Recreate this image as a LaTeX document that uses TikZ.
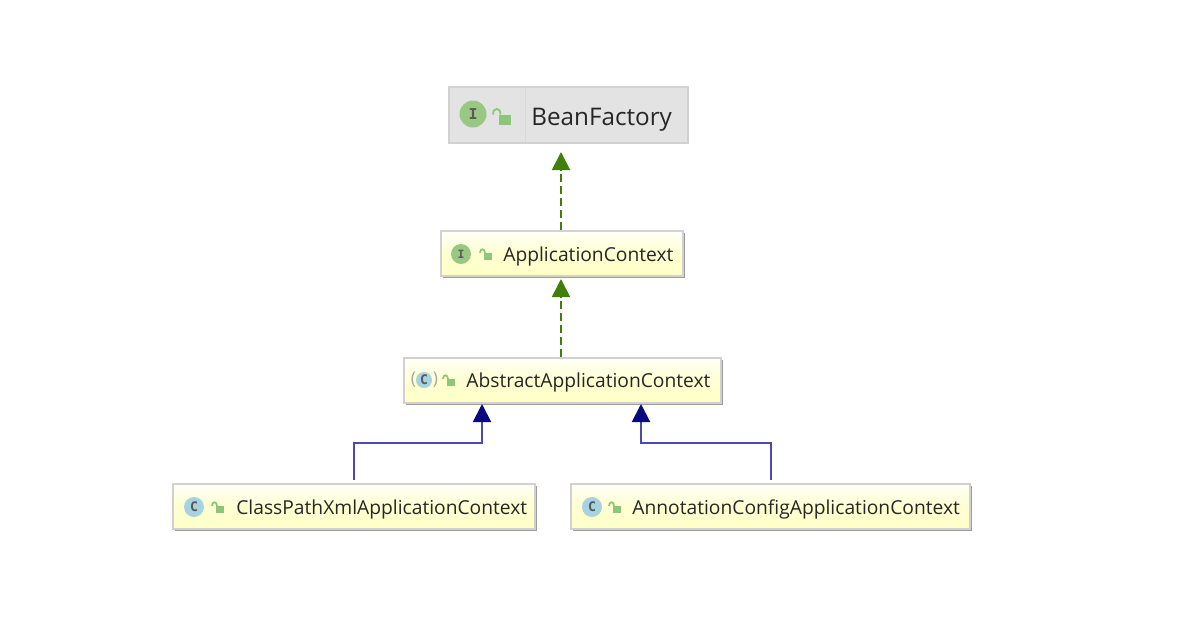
\documentclass[tikz,border=0pt]{standalone}
\usepackage{fontspec}
\setmainfont{Open Sans}
\newfontfamily\iconfont{DejaVu Sans Mono}
\usetikzlibrary{arrows.meta,shadows}
\definecolor{implgreen}{HTML}{3F7F0A}
\definecolor{extblue}{HTML}{0A0A80}
\definecolor{extline}{HTML}{4A4AB0}
\definecolor{lockgreen}{HTML}{8CC67A}
\definecolor{ifacecolor}{HTML}{98C882}
\definecolor{classcolor}{HTML}{A6D3DF}
\tikzset{
	classbox/.style={draw=black!18,line width=0.35mm,top color=yellow!3,bottom color=yellow!22,middle color=yellow!18,minimum height=0.9cm,inner sep=0pt,
		drop shadow={shadow xshift=0.04cm,shadow yshift=-0.04cm,fill=black!55,opacity=0.7}},
	rootbox/.style={draw=black!18,line width=0.35mm,fill=black!11,minimum height=1.12cm,inner sep=0pt},
	boxlabel/.style={anchor=west,inner sep=0pt,text=black!85,font=\fontsize{10.95}{12}\selectfont},
	iconi/.style={circle,fill=ifacecolor,minimum size=0.4cm,inner sep=0pt,text=black!65,font=\iconfont\bfseries\fontsize{6.5}{7}\selectfont},
	iconc/.style={iconi,fill=classcolor,font=\iconfont\bfseries\fontsize{7.5}{8}\selectfont},
	implements/.style={draw=implgreen,line width=0.35mm,dash pattern=on 1.7mm off 0.7mm,-{Triangle[length=0.36cm,width=0.36cm,color=implgreen,fill=implgreen]}},
	extends/.style={draw=extline,line width=0.4mm,-{Triangle[length=0.36cm,width=0.36cm,color=extblue,fill=extblue]}},
	lockicon/.pic={
		\fill[lockgreen] (-2,-1) rectangle (6,6);
		\draw[lockgreen,line width=0.35mm] (-1,-1) .. controls (-1,-6) and (-6,-6) .. (-6,-1);
	}
}
\begin{document}
\begin{tikzpicture}[x=0.02cm,y=-0.02cm]
	\useasboundingbox (0,0) rectangle (1180,629);
	% boxes
	\node[rootbox,minimum width=4.78cm] (bean) at (568.5,115) {};
	\draw[black!15] (525,88) -- (525,142);
	\node[classbox,minimum width=4.84cm] (app) at (562,253.5) {};
	\node[classbox,minimum width=6.34cm] (abs) at (562.5,380.5) {};
	\node[classbox,minimum width=7.24cm] (cpx) at (354,506.5) {};
	\node[classbox,minimum width=7.98cm] (ann) at (770.5,506.5) {};
	% labels
	\node[boxlabel,font=\fontsize{13.8}{16}\selectfont] (beantxt) at (531,120) {BeanFactory};
	\node[boxlabel] (apptxt) at (503,256) {ApplicationContext};
	\node[boxlabel] (abstxt) at (466,382) {AbstractApplicationContext};
	\node[boxlabel] (cpxtxt) at (236,509) {ClassPathXmlApplicationContext};
	\node[boxlabel] (anntxt) at (632,509) {AnnotationConfigApplicationContext};
	% icons
	\node[iconi,minimum size=0.54cm,font=\iconfont\bfseries\fontsize{8.5}{9}\selectfont] (beanicon) at (473,114) {I};
	\node[iconi] (appicon) at (461,254) {I};
	\node[iconc,minimum size=0.32cm] (absicon) at (424,380) {C};
	\node[text=black!35,inner sep=0pt,font=\fontsize{10}{12}\selectfont] (absparen) at (424.5,380) {(\hspace{0.34cm})};
	\node[iconc] (cpxicon) at (194,507) {C};
	\node[iconc] (annicon) at (592,507) {C};
	\pic[scale=1.5] at (502,116) {lockicon};
	\pic at (486,254) {lockicon};
	\pic at (449,380) {lockicon};
	\pic at (218,507) {lockicon};
	\pic at (615,507) {lockicon};
	% connectors
	\coordinate (beanin) at (561,152);
	\coordinate (appin) at (561,279);
	\coordinate (absl) at (482,404);
	\coordinate (absr) at (641,404);
	\coordinate (bendl) at (482,443);
	\coordinate (bendr) at (641,443);
	\draw[implements] (app.north -| beanin) -- (beanin);
	\draw[implements] (abs.north -| appin) -- (appin);
	\draw[extends] ([yshift=0.06cm]cpx.north) |- (bendl) -- (absl);
	\draw[extends] ([yshift=0.06cm]ann.north) |- (bendr) -- (absr);
\end{tikzpicture}
\end{document}
